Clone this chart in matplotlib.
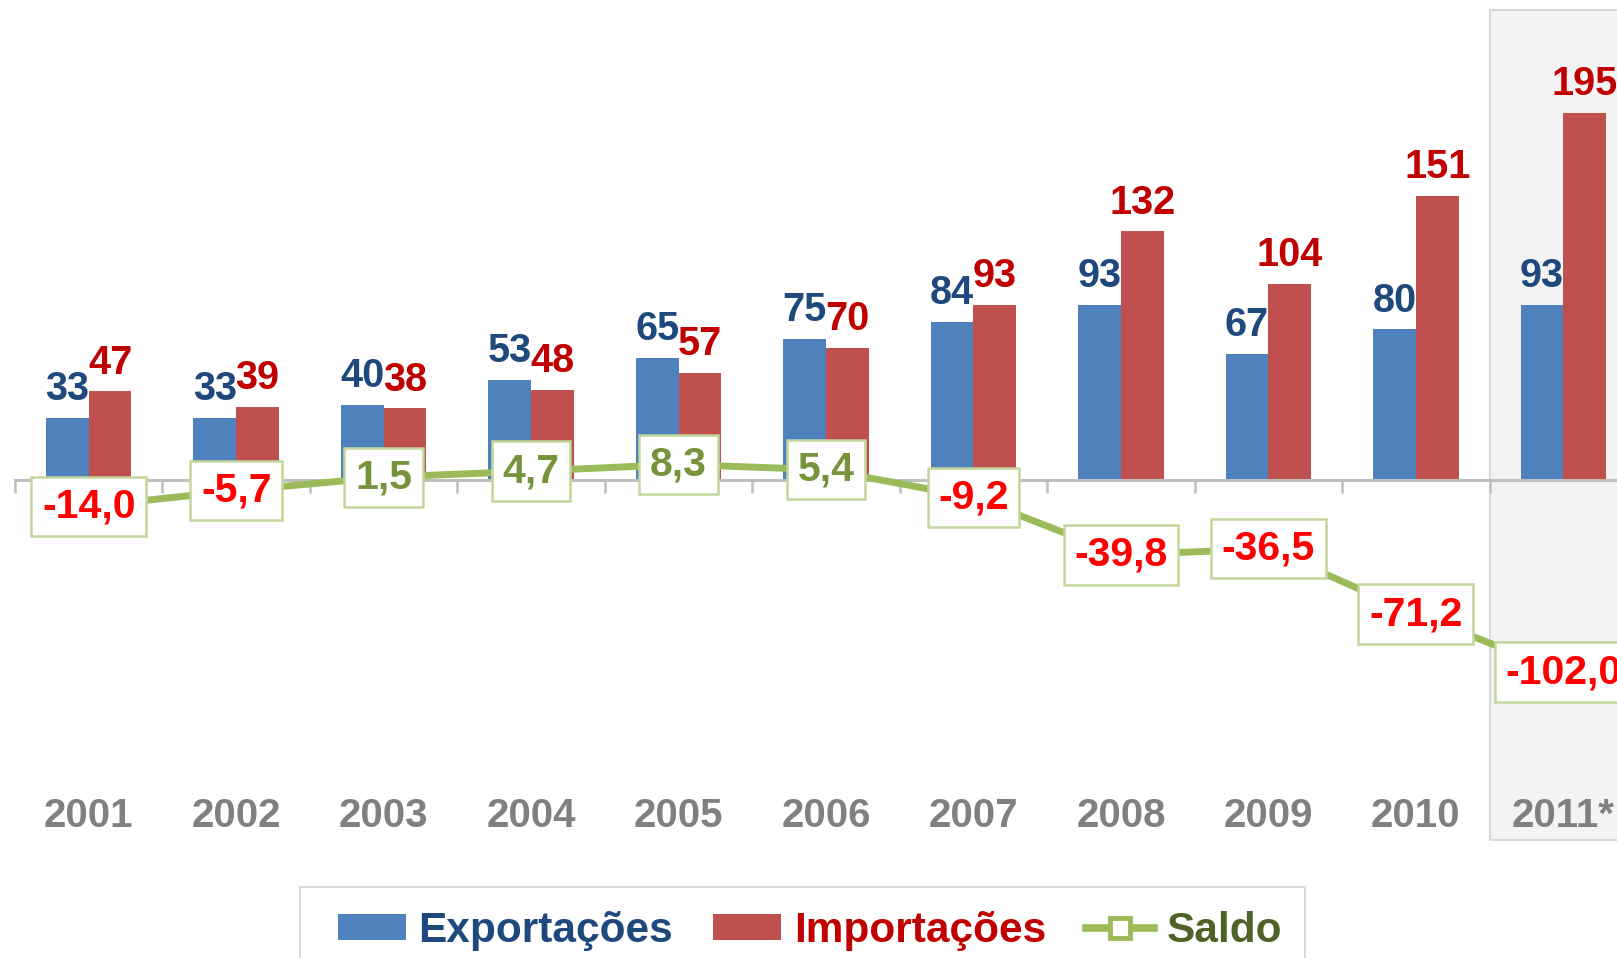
import matplotlib
matplotlib.use("Agg")
import matplotlib.pyplot as plt
from matplotlib.patches import Patch, Rectangle
from matplotlib.lines import Line2D
from matplotlib.transforms import blended_transform_factory

plt.rcParams["font.family"] = ["Liberation Sans", "DejaVu Sans"]
plt.rcParams["font.weight"] = "bold"

# --- data (US$ bi) ---------------------------------------------------------------
years = ["2001", "2002", "2003", "2004", "2005", "2006", "2007", "2008", "2009", "2010", "2011*"]
exportacoes = [33, 33, 40, 53, 65, 75, 84, 93, 67, 80, 93]
importacoes = [47, 39, 38, 48, 57, 70, 93, 132, 104, 151, 195]
saldo = [-14.0, -5.7, 1.5, 4.7, 8.3, 5.4, -9.2, -39.8, -36.5, -71.2, -102.0]

C_EXP, C_IMP, C_SAL = "#4F81BD", "#C0504D", "#9BBB59"
T_EXP, T_IMP, T_SAL = "#1F497D", "#C00000", "#4F6228"
AXIS_GREY = "#BFBFBF"

W, H = 1617, 958
fig = plt.figure(figsize=(W / 100, H / 100), dpi=100)
# axes run past the right edge on purpose: the source image is cropped mid-2011
ax = fig.add_axes([15 / W, (H - 794) / H, 1622 / W, 794 / H])
ax.set_xlim(-0.5, len(years) - 0.5)
ax.set_ylim(-(794 - 480) / 1.883, 480 / 1.883)

x = list(range(len(years)))
bw = 0.29

# shaded "projection" panel behind 2011
tr = blended_transform_factory(ax.transData, fig.transFigure)
ax.add_patch(Rectangle((len(years) - 1.5, 1 - 840 / H), 2.0, (840 - 10) / H, transform=tr,
                       facecolor="#F3F3F3", edgecolor="#D9D9D9", lw=1.5, clip_on=False, zorder=0))

b1 = ax.bar([i - bw / 2 for i in x], exportacoes, bw, color=C_EXP, zorder=2)
b2 = ax.bar([i + bw / 2 for i in x], importacoes, bw, color=C_IMP, zorder=2)
ax.bar_label(b1, labels=[str(v) for v in exportacoes], padding=7, color=T_EXP,
             fontsize=28.5, fontweight="bold", zorder=5)
ax.bar_label(b2, labels=[str(v) for v in importacoes], padding=7, color=T_IMP,
             fontsize=28.5, fontweight="bold", zorder=5)

ax.plot(x, saldo, color=C_SAL, lw=5, zorder=3, solid_capstyle="butt")
for i, v in enumerate(saldo):
    ax.text(i, v, f"{v:.1f}".replace(".", ","), ha="center", va="center", fontsize=29.5,
            fontweight="bold", color="#77933C" if v > 0 else "#FF0000", zorder=6,
            bbox=dict(boxstyle="square,pad=0.26", fc="white", ec="#C3D69B", lw=1.8))

# category axis sits on zero, ticks between groups
for s in ("top", "right", "left"):
    ax.spines[s].set_visible(False)
ax.spines["bottom"].set_position(("data", 0))
ax.spines["bottom"].set_color(AXIS_GREY)
ax.spines["bottom"].set_linewidth(2.2)
ax.spines["bottom"].set_zorder(2.5)
ax.set_yticks([])
ax.set_xticks([i - 0.5 for i in range(len(years) + 1)])
ax.set_xticklabels([])
ax.tick_params(axis="x", length=9, width=1.8, color=AXIS_GREY, direction="out")

for i, y in enumerate(years):
    ax.text(i, 1 - 816 / H, y, transform=tr, ha="center", va="center", fontsize=29,
            fontweight="bold", color="#808080")

# legend: frame drawn separately, its bottom runs off the image like the source
fig.patches.append(Rectangle((300 / W, -0.05), 1005 / W, 0.05 + (H - 887) / H,
                             transform=fig.transFigure, fc="white", ec="#D9D9D9", lw=1.5))
handles = [Patch(facecolor=C_EXP), Patch(facecolor=C_IMP),
           Line2D([], [], color=C_SAL, lw=5.5, marker="s", ms=15, mfc="white", mec=C_SAL, mew=3.5)]
fig.legend(handles, ["Exportações", "Importações", "Saldo"], loc="center",
           bbox_to_anchor=(810 / W, 1 - 931 / H), ncol=3, frameon=False,
           prop=dict(family="Liberation Sans", weight="bold", size=30.5),
           labelcolor=[T_EXP, T_IMP, T_SAL], handlelength=1.6, handleheight=0.55,
           handletextpad=0.3, columnspacing=0.95, borderpad=0, borderaxespad=0)

fig.savefig("out.png", dpi=100)
